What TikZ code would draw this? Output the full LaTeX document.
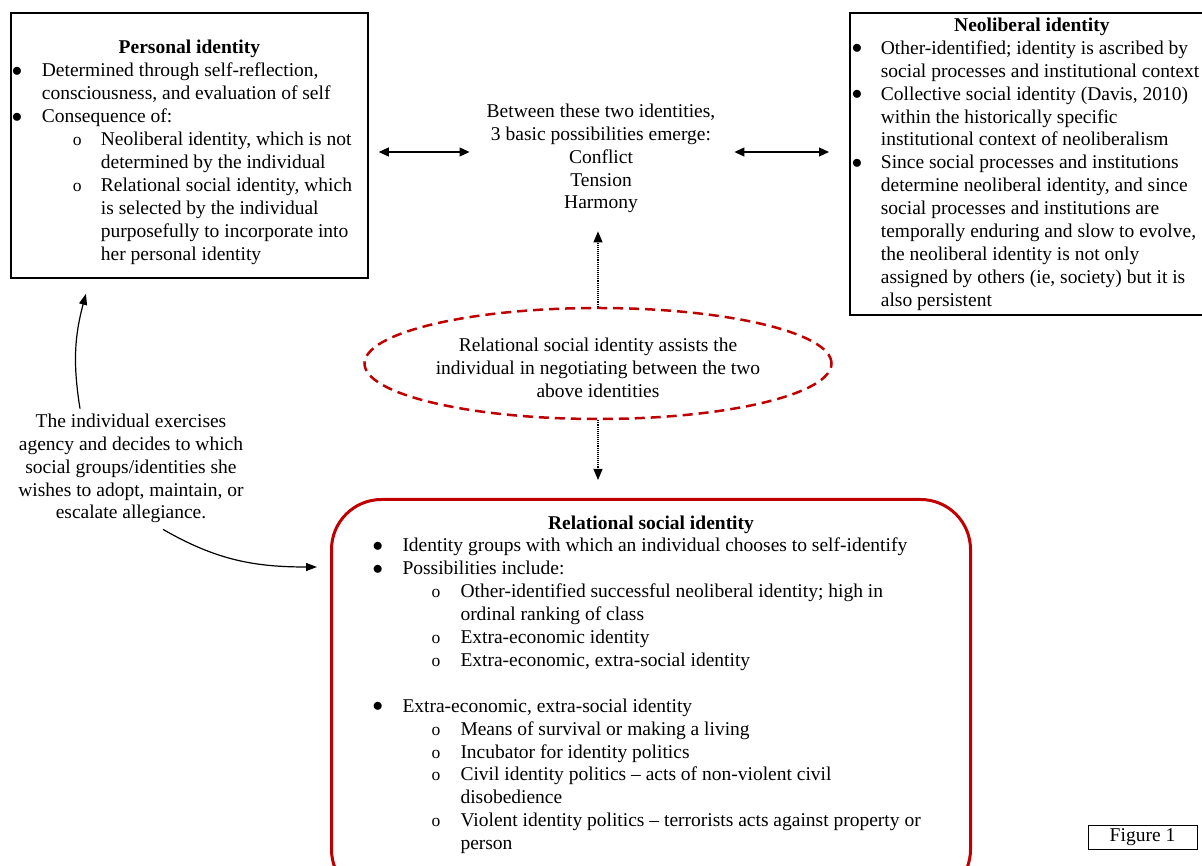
\documentclass[tikz,border=0pt]{standalone}
\usepackage{fontspec}
\setmainfont{Liberation Serif}
\usetikzlibrary{arrows.meta,shapes.geometric,calc}
\definecolor{relred}{HTML}{C00000}

\newcommand{\itm}[3]{\par\noindent\hangindent=#2\hangafter=1\makebox[#2][l]{\hspace*{#1}#3}}
\newcommand{\dotmark}{\raisebox{0.5pt}{$\bullet$}}
\newcommand{\ring}{{\fontsize{17.5}{17.5}\selectfont o}}

\tikzset{
  every node/.style={font=\fontsize{19.5}{22.9}\selectfont, inner sep=0pt},
  idbox/.style={draw, line width=1.8pt, anchor=north west},
  relbox/.style={draw=relred, line width=3pt, rounded corners=50pt, anchor=north west},
  negellipse/.style={ellipse, draw=relred, line width=2.5pt, dash pattern=on 10pt off 6pt,
    minimum width=467pt, minimum height=111pt, align=center},
  twoway/.style={{Triangle[length=10pt,width=9pt]}-{Triangle[length=10pt,width=9pt]}, line width=1.1pt},
  dotlink/.style={-{Triangle[length=11pt,width=9pt]}, densely dotted, line width=1.1pt},
  agencylink/.style={-{Triangle[length=11pt,width=8pt]}, line width=1.2pt}
}

\begin{document}
\begin{tikzpicture}[x=1pt,y=1pt]
\useasboundingbox (0,0) rectangle (1202,865);

\node[idbox] (pers) at (10,853) {\parbox[c][265pt][t]{357pt}{\vspace*{27.5pt}%
{\centering\bfseries Personal identity\par}\raggedright
\itm{1pt}{31pt}{\dotmark}Determined through self-reflection,\newline consciousness, and evaluation of self
\itm{1pt}{31pt}{\dotmark}Consequence of:
\itm{62pt}{90pt}{\ring}Neoliberal identity, which is not\newline determined by the individual
\itm{62pt}{90pt}{\ring}Relational social identity, which\newline is selected by the individual\newline purposefully to incorporate into\newline her personal identity\par}};

\node[idbox] (neo) at (849,853) {\parbox[c][302pt][t]{364pt}{\vspace*{5pt}%
{\centering\bfseries Neoliberal identity\par}\raggedright
\itm{2pt}{31pt}{\dotmark}Other-identified; identity is ascribed by\newline social processes and institutional context
\itm{2pt}{31pt}{\dotmark}Collective social identity (Davis, 2010)\newline within the historically specific\newline institutional context of neoliberalism
\itm{2pt}{31pt}{\dotmark}Since social processes and institutions\newline determine neoliberal identity, and since\newline social processes and institutions are\newline temporally enduring and slow to evolve,\newline the neoliberal identity is not only\newline assigned by others (ie, society) but it is\newline also persistent\par}};

\node[align=center] (mid) at (601,706.5) {Between these two identities,\\3 basic possibilities emerge:\\Conflict\\Tension\\Harmony};

\node[negellipse] (neg) at (598,501.5) {\rule{0pt}{22pt}Relational social identity assists the\\individual in negotiating between the two\\above identities};

\node[align=center] (agency) at (131,396.5) {The individual exercises\\agency and decides to which\\social groups/identities she\\wishes to adopt, maintain, or\\escalate allegiance.};

\node[relbox] (rel) at (330,367) {\parbox[c][400pt][t]{639pt}{\vspace*{16pt}%
{\centering\bfseries Relational social identity\par}\raggedright
\itm{41pt}{71pt}{\dotmark}Identity groups with which an individual chooses to self-identify
\itm{41pt}{71pt}{\dotmark}Possibilities include:
\itm{100pt}{129pt}{\ring}Other-identified successful neoliberal identity; high in\newline ordinal ranking of class
\itm{100pt}{129pt}{\ring}Extra-economic identity
\itm{100pt}{129pt}{\ring}Extra-economic, extra-social identity\par
\vspace{22.9pt}
\itm{41pt}{71pt}{\dotmark}Extra-economic, extra-social identity
\itm{100pt}{129pt}{\ring}Means of survival or making a living
\itm{100pt}{129pt}{\ring}Incubator for identity politics
\itm{100pt}{129pt}{\ring}Civil identity politics -- acts of non-violent civil\newline disobedience
\itm{100pt}{129pt}{\ring}Violent identity politics -- terrorists acts against property or\newline person\par}};

\node[draw, line width=0.8pt, minimum width=109pt, minimum height=24pt] (fig) at (1142.5,28) {Figure 1};

\draw[twoway] ($(mid.west -| pers.east)+(10,6.5)$) -- ($(mid.west)+(-17,6.5)$);
\draw[twoway] ($(mid.east)+(19,6.5)$) -- ($(mid.east -| neo.west)+(-20,6.5)$);
\draw[dotlink] (neg.north) -- ($(neg.north |- mid.south)+(0,-18)$);
\draw[dotlink] (neg.south) -- ($(neg.south |- rel.north)+(0,18)$);
\draw[agencylink] ($(agency.north)+(-51,5)$) to[bend left=12] ($(pers.south)+(-103.5,-15)$);
\draw[agencylink] ($(agency.south)+(32,-6)$) to[out=-30,in=180] ($(rel.north west)+(-13,-69)$);
\end{tikzpicture}
\end{document}
